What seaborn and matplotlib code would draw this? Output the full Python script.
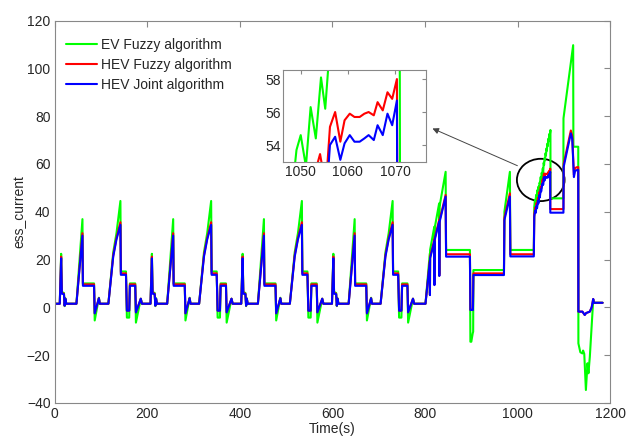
import numpy as np
import pandas as pd
import matplotlib
matplotlib.use("Agg")
import matplotlib.pyplot as plt
import seaborn as sns
from matplotlib.patches import Ellipse

# ---------------- data ----------------
series_names = ["EV Fuzzy algorithm", "HEV Fuzzy algorithm", "HEV Joint algorithm"]
series_colors = ["#00ff00", "#ff0000", "#0000ff"]

# one urban (ECE) cycle, times relative to cycle start
cycle_t = [0, 11, 14, 15.5, 20, 21.5, 23, 25, 47, 60, 61, 85, 86.5, 95.5, 97.5,
           116, 126.5, 133.5, 142, 143, 154, 156, 161, 162.5, 174, 175.5, 186, 188.5]
cycle_green = [1.5, 1.5, 22.4, 6.4, 6.0, 0.5, 3.8, 1.5, 1.5, 36.9, 10.0, 10.0, -5.5, 4.0, 1.5,
               1.5, 23.0, 31.0, 44.5, 15.0, 15.0, -4.3, -4.3, 10.0, 10.0, -6.4, 3.6, 1.5]
cycle_red = [1.5, 1.5, 21.2, 6.0, 5.7, 0.7, 3.6, 1.5, 1.5, 31.0, 9.6, 9.6, -2.5, 3.8, 1.5,
             1.5, 21.8, 29.0, 35.6, 14.2, 14.2, -1.4, -1.4, 9.6, 9.6, -2.1, 3.6, 1.5]
cycle_blue = [1.5, 1.5, 20.5, 5.7, 5.5, 0.7, 3.6, 1.5, 1.5, 30.0, 9.0, 9.0, -2.5, 3.8, 1.5,
              1.5, 21.2, 28.4, 34.5, 13.6, 13.6, -1.4, -1.4, 9.0, 9.0, -2.1, 3.6, 1.5]
cycle_starts = [0, 196, 392, 588]

# extra-urban part, red & blue share times
eudc_t_rb = [784, 801, 810.3, 810.6, 811, 820, 820.3, 820.7, 830.5, 830.8, 831.2, 844.5, 845.5,
             897, 898, 903.5, 904.5, 970.5, 971.5, 983.3, 984.3, 1035, 1036, 1038, 1039, 1041,
             1042, 1044, 1045, 1047, 1048, 1050, 1051, 1053, 1054.1, 1054.8, 1055.6, 1056.2,
             1057.3, 1058.4, 1059.3, 1060.4, 1061.4, 1062.5, 1063.5, 1064.4, 1065.5, 1066.3,
             1067.4, 1068.4, 1069.4, 1070.4, 1070.6, 1099, 1099.5, 1115, 1118, 1121.6, 1124,
             1127.4, 1131, 1131.3, 1140, 1145, 1148, 1156, 1160, 1163.3, 1164.8, 1183.6]
eudc_blue = [1.5, 1.5, 19.0, 5.1, 20.5, 27.5, 9.3, 28.0, 35.8, 13.1, 35.5, 46.3, 21.2,
             21.2, -1.1, -1.1, 13.5, 13.5, 36.5, 46.3, 21.3, 21.3, 38.0, 40.5, 39.5, 42.5,
             41.5, 44.5, 43.5, 47.0, 46.0, 49.3, 48.5, 51.2, 51.9, 51.2, 51.5, 54.0,
             54.5, 53.1, 54.1, 54.6, 54.2, 54.2, 54.4, 54.6, 54.3, 55.2,
             54.6, 55.9, 55.2, 56.7, 39.6, 39.6, 58.8, 72.8, 70.5, 54.5, 57.0,
             57.4, 57.5, -1.8, -1.8, -3.2, -2.4, -1.8, 0.0, 3.5, 1.9, 1.9]
eudc_red = [1.5, 1.5, 19.6, 5.3, 21.1, 28.2, 9.5, 28.7, 36.5, 13.3, 36.2, 47.0, 22.2,
            22.2, -1.0, -1.0, 14.2, 14.2, 37.5, 47.7, 22.2, 22.2, 39.0, 41.7, 40.7, 43.7,
            42.7, 45.7, 44.7, 48.2, 47.2, 50.5, 49.7, 52.3, 53.45, 52.3, 52.6, 55.1,
            56.0, 54.2, 55.5, 55.9, 55.7, 55.7, 55.9, 56.0, 55.8, 56.6,
            56.1, 57.2, 56.8, 58.0, 41.1, 41.1, 60.0, 74.0, 71.7, 55.5, 58.2,
            58.6, 58.7, -1.8, -1.8, -3.2, -2.4, -1.8, 0.0, 3.5, 1.9, 1.9]

eudc_t_g = [784, 801, 810.3, 810.6, 811, 820, 820.3, 820.7, 830.5, 830.8, 831.2, 844.5, 845.5,
            897, 898, 900, 903, 904, 904.5, 970.5, 971.5, 983.3, 984.3, 1035, 1036, 1037.5,
            1038.5, 1040, 1041, 1042.5, 1043.5, 1045, 1046, 1047.5, 1048.3, 1049.1, 1050,
            1051.1, 1052.1, 1053.2, 1054.3, 1055.2, 1056.3, 1057.2, 1058.3, 1059.2, 1060.3,
            1061.2, 1062.3, 1063.2, 1064.3, 1065.2, 1066.3, 1067.2, 1068.3, 1069.2, 1070.9,
            1071.1, 1098.8, 1099.1, 1120, 1120.5, 1131, 1131.3, 1133.5, 1135.5, 1140, 1141.5,
            1144, 1147.5, 1151, 1153, 1156, 1163.3, 1164.8, 1183.6]
eudc_green = [1.5, 1.5, 22.5, 6.0, 24.0, 33.7, 10.0, 33.0, 43.5, 14.0, 42.0, 56.7, 24.0,
              24.0, -14.4, -14.4, -10.9, -10.2, 15.6, 15.6, 40.0, 56.7, 24.0, 24.0, 42.0, 45.0,
              43.5, 47.0, 45.5, 49.0, 47.5, 50.5, 49.0, 52.2, 51.5, 53.7, 54.6,
              52.7, 56.3, 54.4, 58.1, 56.2, 60.5, 59.5, 62.5, 61.5, 64.5,
              63.5, 66.5, 65.5, 68.5, 67.5, 70.5, 69.5, 72.5, 71.5, 74.2,
              45.6, 45.6, 79.1, 109.7, 67.2, 67.2, -15.1, -17.0, -18.8, -19.3, -18.1,
              -19.5, -34.6, -23.4, -27.6, -20.7, 3.1, 1.9, 1.9]

x_ticks = [0, 200, 400, 600, 800, 1000, 1200]
y_ticks = [-40, -20, 0, 20, 40, 60, 80, 100, 120]
inset_x_ticks = [1050, 1060, 1070]
inset_y_ticks = [54, 56, 58]


def build(cvals, et, ev):
    t, v = [], []
    for s in cycle_starts:
        t += [s + x for x in cycle_t]
        v += list(cvals)
    return t + list(et), v + list(ev)


frames = []
for name, cv, et, ev in [(series_names[0], cycle_green, eudc_t_g, eudc_green),
                         (series_names[1], cycle_red, eudc_t_rb, eudc_red),
                         (series_names[2], cycle_blue, eudc_t_rb, eudc_blue)]:
    t, v = build(cv, et, ev)
    frames.append(pd.DataFrame({"Time": t, "value": v, "series": name}))
df = pd.concat(frames, ignore_index=True)
palette = dict(zip(series_names, series_colors))

# ---------------- figure ----------------
sns.set_style("white")
plt.rcParams["font.family"] = ["Liberation Sans", "DejaVu Sans"]
plt.rcParams["font.size"] = 10

fig = plt.figure(figsize=(6.27, 4.40), dpi=100)
ax = fig.add_axes([0.0872, 0.0843, 0.886, 0.869])

sns.lineplot(data=df, x="Time", y="value", hue="series", palette=palette,
             hue_order=series_names, sort=False, estimator=None, errorbar=None,
             linewidth=1.5, ax=ax, legend=False)

ax.set_xlim(0, 1200)
ax.set_ylim(-40, 120)
ax.set_xticks(x_ticks)
ax.set_yticks(y_ticks)
ax.set_xlabel("Time(s)", fontsize=10, labelpad=1)
ax.set_ylabel("ess_current", fontsize=10, labelpad=0)
ax.tick_params(direction="in", top=True, right=True, length=4, color="#888888",
               labelsize=10, pad=3)
for sp in ax.spines.values():
    sp.set_color("#888888")
    sp.set_linewidth(0.8)

handles = [plt.Line2D([], [], color=c, lw=1.5) for c in series_colors]
ax.legend(handles, series_names, loc="upper left", frameon=False, fontsize=10,
          handlelength=2.2, handletextpad=0.3, labelspacing=0.45,
          bbox_to_anchor=(-0.002, 0.988))

# ellipse and arrow
ax.add_patch(Ellipse((1050, 53.3), 103, 17.7, fill=False, edgecolor="black", lw=1.3))
ax.annotate("", xy=(810.6, 75.3), xytext=(1005, 58.8),
            arrowprops=dict(arrowstyle="-|>", color="#444444", lw=0.7, mutation_scale=9))

# inset
axi = fig.add_axes([0.4518, 0.6311, 0.2271, 0.2098])
sns.lineplot(data=df, x="Time", y="value", hue="series", palette=palette,
             hue_order=series_names, sort=False, estimator=None, errorbar=None,
             linewidth=1.5, ax=axi, legend=False)
axi.set_xlim(1046.3, 1076.5)
axi.set_ylim(52.95, 58.55)
axi.set_xticks(inset_x_ticks)
axi.set_yticks(inset_y_ticks)
axi.set_xlabel("")
axi.set_ylabel("")
axi.tick_params(direction="in", top=True, right=True, length=3, color="#888888",
                labelsize=10, pad=2)
for sp in axi.spines.values():
    sp.set_color("#888888")
    sp.set_linewidth(0.8)
axi.set_facecolor("white")

fig.savefig("out.png", dpi=100)
